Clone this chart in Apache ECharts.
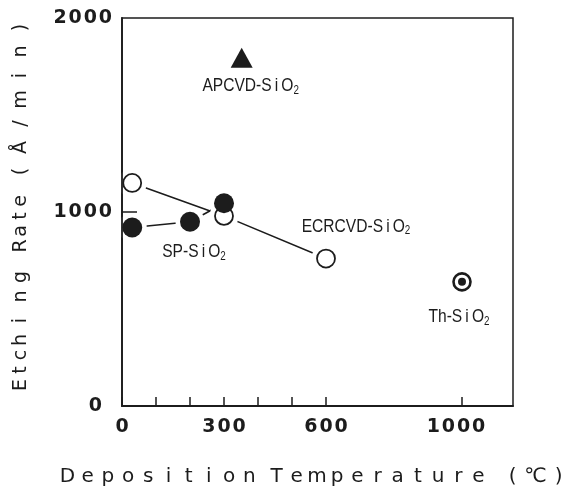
<!DOCTYPE html>
<html><head><meta charset="utf-8">
<script src="https://cdn.jsdelivr.net/npm/echarts@6/dist/echarts.min.js"></script>
<style>html,body{margin:0;padding:0;background:#fff}#c{width:571px;height:488px}</style>
</head><body><div id="c"></div>
<script>
// Data
const ecrTemp = [30, 300, 600];
const ecrRate = [1150, 980, 760];
const spTemp = [30, 200, 300];
const spRate = [920, 950, 1045];
const apcvdTemp = [352];
const apcvdRate = [1795];
const thTemp = [1000];
const thRate = [640];
const xTickValues = [0, 100, 200, 300, 400, 500, 600, 1000];
const xLabelValues = [0, 300, 600, 1000];
const yTickValues = [1000];
const yLabelValues = [0, 1000, 2000];
const xTitle = 'Deposition Temperature\u2003(℃)';
const yTitle = 'Etching Rate\u2003(Å/min)';

const pts = (xs, ys) => xs.map((x, i) => [x, ys[i]]);
const INK = '#1c1c1c';
const spaced = s => s.split('').join('\u200A');
const numFont = { color: INK, fontFamily: 'DejaVu Sans', fontWeight: 'bold', fontSize: 19 };

// spaced title built from fixed-width rich tokens
function cellTitle(text, cellW, specials, size) {
  const rich = {};
  let out = '';
  text.split('').forEach((ch, i) => {
    const w = specials[ch] !== undefined ? specials[ch] : cellW;
    const key = 'c' + i;
    rich[key] = { width: w, align: 'center', fontFamily: 'DejaVu Sans', fontSize: size, fill: INK, color: INK };
    out += '{' + key + '|' + (ch === ' ' || ch === '\u2003' ? '\u00A0' : ch) + '}';
  });
  return { text: out, rich };
}
const xT = cellTitle(xTitle, 20.2, { ' ': 7, '\u2003': 14, '(': 20, '℃': 26, ')': 20 }, 20);
const yT = cellTitle(yTitle, 15, { ' ': 16, '\u2003': 10, '(': 24, ')': 24, 'Å': 24, '/': 24, 'm': 24, 'i': 24, 'n': 24 }, 19);

const chart = echarts.init(document.getElementById('c'), null, { renderer: 'canvas' });
chart.setOption({
  animation: false,
  backgroundColor: '#fff',
  grid: { left: 122, top: 18, right: 58, bottom: 82, show: true, borderColor: INK, borderWidth: 1.5, backgroundColor: 'transparent' },
  xAxis: {
    type: 'value', min: 0, max: 1150, z: 10,
    splitLine: { show: false },
    axisLine: { lineStyle: { color: INK, width: 1.8 } },
    axisTick: { inside: true, length: 9, customValues: xTickValues, lineStyle: { color: INK, width: 1.5 } },
    axisLabel: Object.assign({ customValues: xLabelValues, margin: 12,
      formatter: v => v === 1000 ? '{k|' + spaced(String(v)) + '}' : spaced(String(v)),
      rich: { k: Object.assign({ padding: [0, 12, 0, 0] }, numFont) } }, numFont)
  },
  yAxis: {
    type: 'value', min: 0, max: 2000, z: 10,
    splitLine: { show: false },
    axisLine: { lineStyle: { color: INK, width: 1.8 } },
    axisTick: { inside: true, length: 15, customValues: yTickValues, lineStyle: { color: INK, width: 1.5 } },
    axisLabel: Object.assign({ customValues: yLabelValues, margin: 10,
      formatter: v => v === 0 ? '{z|0}' : spaced(String(v)),
      rich: { z: Object.assign({ padding: [0, 10, 0, 0] }, numFont) } }, numFont)
  },
  series: [
    { type: 'line', z: 1, silent: true, data: pts(ecrTemp, ecrRate), symbol: 'none', lineStyle: { color: INK, width: 1.6 } },
    { type: 'line', z: 1, silent: true, data: pts(spTemp, spRate), symbol: 'none', lineStyle: { color: INK, width: 1.6 } },
    // white halos leave gaps between the lines and the markers
    { type: 'scatter', z: 2, silent: true, data: pts(ecrTemp, ecrRate).concat(pts(spTemp, spRate)), symbol: 'circle', symbolSize: 29, itemStyle: { color: '#fff', opacity: 1 } },
    { type: 'scatter', z: 3, data: pts(ecrTemp, ecrRate), symbol: 'circle', symbolSize: 18,
      itemStyle: { color: '#fff', borderColor: INK, borderWidth: 1.8, opacity: 1 } },
    { type: 'scatter', z: 4, data: pts(spTemp, spRate), symbol: 'circle', symbolSize: 20, itemStyle: { color: INK, opacity: 1 } },
    { type: 'scatter', z: 3, data: pts(apcvdTemp, apcvdRate), symbol: 'triangle', symbolSize: [22, 20], itemStyle: { color: INK, opacity: 1 } },
    { type: 'scatter', z: 3, data: pts(thTemp, thRate), symbol: 'circle', symbolSize: 17,
      itemStyle: { color: '#fff', borderColor: INK, borderWidth: 2.6, opacity: 1 } },
    { type: 'scatter', z: 4, silent: true, data: pts(thTemp, thRate), symbol: 'circle', symbolSize: 8, itemStyle: { color: INK, opacity: 1 } }
  ]
});

// annotations anchored to data points via the chart's own scales
const labRich = {
  m: { fontFamily: 'Liberation Sans', fontSize: 19, fill: INK, color: INK },
  s: { fontFamily: 'Liberation Sans', fontSize: 12, fill: INK, color: INK, padding: [9, 0, 0, 0] }
};
const annot = [
  { x: apcvdTemp[0], y: apcvdRate[0], name: 'APCVD-', off: [9, 28] },
  { x: spTemp[1], y: spRate[1], name: 'SP-', off: [4, 30] },
  { x: ecrTemp[2], y: ecrRate[2], name: 'ECRCVD-', off: [30, -32] },
  { x: thTemp[0], y: thRate[0], name: 'Th-', off: [-3, 35] }
];
const graphics = annot.map((a, i) => {
  const p = chart.convertToPixel({ gridIndex: 0 }, [a.x, a.y]);
  return { type: 'text', id: 'lab' + i, x: p[0] + a.off[0], y: p[1] + a.off[1], scaleX: 0.82, z: 20,
    style: { text: '{m|' + a.name + 'S\u2009i\u2009O}{s|2}', rich: labRich, align: 'center', verticalAlign: 'middle' } };
});
graphics.push({ type: 'text', id: 'ytitle', x: 21, y: 204, rotation: Math.PI / 2, z: 20,
  style: { text: yT.text, rich: yT.rich, align: 'center', verticalAlign: 'middle' } });
graphics.push({ type: 'text', id: 'xtitle', x: 313, y: 477, z: 20,
  style: { text: xT.text, rich: xT.rich, align: 'center', verticalAlign: 'middle' } });
chart.setOption({ graphic: graphics });
</script></body></html>
